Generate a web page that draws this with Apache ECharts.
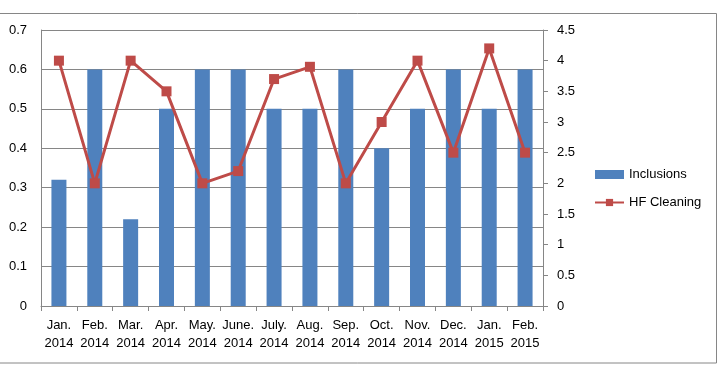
<!DOCTYPE html>
<html>
<head>
<meta charset="utf-8">
<script src="https://cdn.jsdelivr.net/npm/echarts@6/dist/echarts.min.js"></script>
<style>
  html, body { margin: 0; padding: 0; background: #fff; }
</style>
</head>
<body>
<div id="myChart" style="width: 721px; height: 368px;"></div>
<script>
  // categories / tick labels
  const months = ['Jan.\n2014', 'Feb.\n2014', 'Mar.\n2014', 'Apr.\n2014', 'May.\n2014', 'June.\n2014', 'July.\n2014',
    'Aug.\n2014', 'Sep.\n2014', 'Oct.\n2014', 'Nov.\n2014', 'Dec.\n2014', 'Jan.\n2015', 'Feb.\n2015'];
  // series values
  const inclusions = [0.32, 0.6, 0.22, 0.5, 0.6, 0.6, 0.5, 0.5, 0.6, 0.4, 0.5, 0.6, 0.5, 0.6];
  const hfCleaning = [4, 2, 4, 3.5, 2, 2.2, 3.7, 3.9, 2, 3, 4, 2.5, 4.2, 2.5];

  const font = 'Liberation Sans';
  const gray = '#868686';

  let myChart = echarts.init(document.getElementById('myChart'));
  myChart.setOption({
    animation: false,
    textStyle: { fontFamily: font },
    graphic: [{
      type: 'rect',
      shape: { x: -2, y: 13.5, width: 718.5, height: 349.5 },
      style: { fill: 'none', stroke: gray, lineWidth: 1 }
    }],
    grid: { left: 41, right: 178, top: 30, bottom: 62 },
    legend: {
      orient: 'vertical',
      left: 594,
      top: 168,
      padding: 0,
      itemWidth: 29,
      itemHeight: 9,
      itemGap: 15,
      textStyle: { fontFamily: font, fontSize: 13, color: '#000' },
      data: [{ name: 'Inclusions', icon: 'rect' }, { name: 'HF Cleaning' }]
    },
    xAxis: [{
      type: 'category',
      data: months,
      axisLine: { lineStyle: { color: gray } },
      axisTick: { show: true, length: 5, lineStyle: { color: gray } },
      axisLabel: { interval: 0, margin: 10, color: '#000', fontSize: 13, lineHeight: 18, fontFamily: font }
    }],
    yAxis: [{
      type: 'value',
      min: 0, max: 0.7, interval: 0.1,
      axisLine: { show: true, lineStyle: { color: gray } },
      axisTick: { show: false },
      splitLine: { lineStyle: { color: gray } },
      axisLabel: { margin: 14, color: '#000', fontSize: 13, fontFamily: font }
    }, {
      type: 'value',
      min: 0, max: 4.5, interval: 0.5,
      position: 'right',
      axisLine: { show: true, lineStyle: { color: gray } },
      axisTick: { show: true, length: 5, inside: false, lineStyle: { color: gray } },
      splitLine: { show: false },
      axisLabel: { margin: 14, color: '#000', fontSize: 13, fontFamily: font }
    }],
    series: [{
      name: 'Inclusions',
      type: 'bar',
      data: inclusions,
      barWidth: 15,
      itemStyle: { color: '#4F81BD' }
    }, {
      name: 'HF Cleaning',
      type: 'line',
      yAxisIndex: 1,
      data: hfCleaning,
      symbol: 'rect',
      symbolSize: 10,
      lineStyle: { color: '#BE4B48', width: 3 },
      itemStyle: { color: '#BE4B48' }
    }]
  });
</script>
</body>
</html>
